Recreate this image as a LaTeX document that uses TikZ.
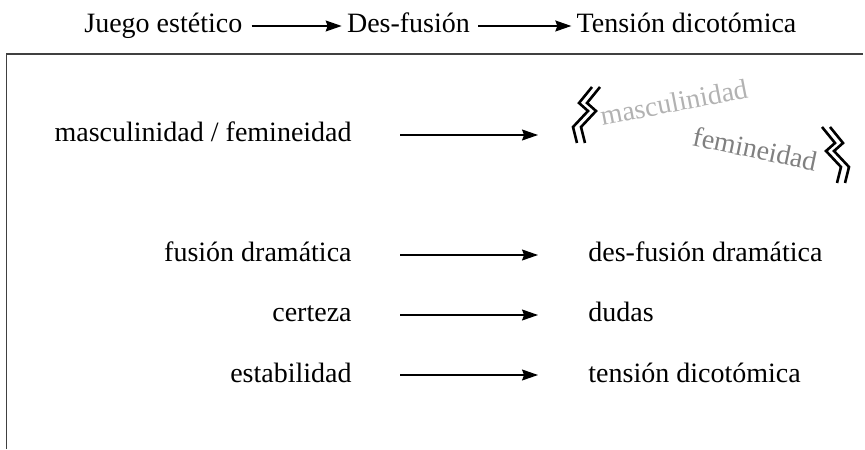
\documentclass[tikz,border=0pt]{standalone}
\usepackage{fontspec}
\setmainfont{Liberation Serif}
\usetikzlibrary{positioning,arrows.meta}

\tikzset{
  lbl/.style={inner sep=0pt, text height=10pt, text depth=3pt,
    font=\fontsize{14}{16}\selectfont},
  tilted/.style={lbl, text height=7pt, text depth=0pt, anchor=base west},
  arr/.style={line width=0.6pt, -{Stealth[length=8pt,width=5.5pt,inset=1pt]}},
  row/.style={shorten <=24pt, shorten >=25pt},
  wig/.style={line width=1.3pt},
  zigzag/.pic={
    \foreach \d in {0,8}
      \draw[wig, shift={(\d,0)}] (6,28) -- (-7,12) -- (2,4) -- (-13,-12) -- (-9,-28);
  }
}

\begin{document}
\begin{tikzpicture}[x=0.5pt, y=0.5pt]
\useasboundingbox (0,0) rectangle (865,449);
% titulo
\node[lbl, anchor=base west] (juego) at (84,416) {Juego estético};
\node[lbl, right=52pt of juego] (desf) {Des-fusión};
\node[lbl, right=53pt of desf] (tension) {Tensión dicotómica};
\draw[arr, shorten <=4.5pt, shorten >=2.5pt] (juego) -- (desf);
\draw[arr, shorten <=4pt, shorten >=2.5pt] (desf) -- (tension);
% caja
\draw[line width=0.7pt, black!75] (6.5,0) |- (863,395);
% masculinidad / femineidad
\node[lbl, anchor=base east] (mf) at (352,307) {masculinidad / femineidad};
\coordinate (mfend) at (538,314);
\draw[arr, shorten <=24pt] (mf) -- (mfend);
\node[tilted, text=black!30, rotate=11] (masc) at (602,323) {masculinidad};
\node[tilted, text=black!50, rotate=-12] (fem) at (691,304) {femineidad};
\pic at (586,334) {zigzag};
\pic[xscale=-1] at (836,294) {zigzag};
% filas
\node[lbl, anchor=base east] (fusion) at (352,187) {fusión dramática};
\node[lbl, anchor=base west] (desfusion) at (588,187) {des-fusión dramática};
\draw[arr, row] (fusion) -- (desfusion);
\node[lbl, anchor=base east] (certeza) at (352,127) {certeza};
\node[lbl, anchor=base west] (dudas) at (588,127) {dudas};
\draw[arr, row] (certeza) -- (dudas);
\node[lbl, anchor=base east] (estab) at (352,67) {estabilidad};
\node[lbl, anchor=base west] (dicot) at (588,67) {tensión dicotómica};
\draw[arr, row] (estab) -- (dicot);
\end{tikzpicture}
\end{document}
